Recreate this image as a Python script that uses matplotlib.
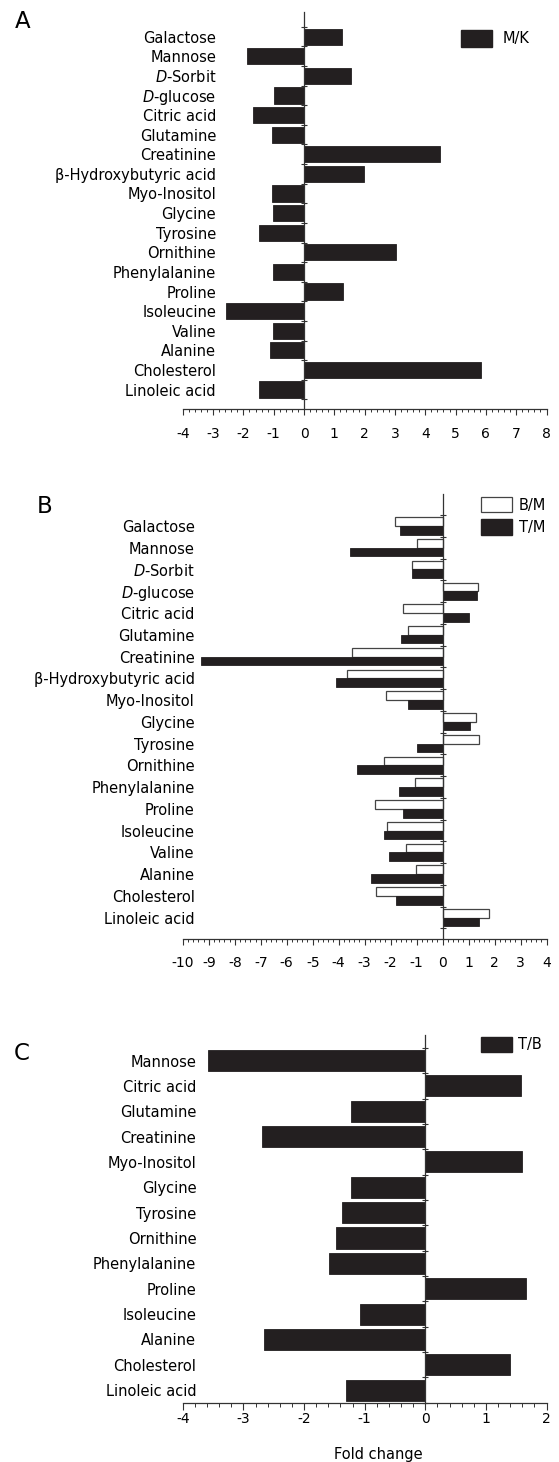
import matplotlib
matplotlib.use("Agg")
import matplotlib.pyplot as plt
from matplotlib.patches import Patch
from matplotlib.ticker import MultipleLocator, FixedLocator
import numpy as np

plt.rcParams['font.family'] = ['DejaVu Sans']
plt.rcParams['mathtext.fontset'] = 'dejavusans'

# ---------------- data ----------------
categories_ab = ["Galactose", "Mannose", r"$\mathit{D}$-Sorbit", r"$\mathit{D}$-glucose",
                 "Citric acid", "Glutamine", "Creatinine", "β-Hydroxybutyric acid",
                 "Myo-Inositol", "Glycine", "Tyrosine", "Ornithine", "Phenylalanine",
                 "Proline", "Isoleucine", "Valine", "Alanine", "Cholesterol", "Linoleic acid"]
mk_values = [1.26, -1.88, 1.55, -1.00, -1.68, -1.06, 4.47, 1.99, -1.07, -1.02,
             -1.49, 3.02, -1.02, 1.27, -2.56, -1.03, -1.13, 5.84, -1.48]
bm_values = [-1.83, -0.99, -1.17, 1.37, -1.54, -1.34, -3.47, -3.69, -2.17, 1.30,
             1.39, -2.24, -1.07, -2.59, -2.15, -1.42, -1.03, -2.56, 1.79]
tm_values = [-1.64, -3.55, -1.18, 1.34, 1.02, -1.60, -9.30, -4.09, -1.35, 1.06,
             -0.99, -3.31, -1.68, -1.54, -2.27, -2.05, -2.75, -1.80, 1.39]
categories_c = ["Mannose", "Citric acid", "Glutamine", "Creatinine", "Myo-Inositol",
                "Glycine", "Tyrosine", "Ornithine", "Phenylalanine", "Proline",
                "Isoleucine", "Alanine", "Cholesterol", "Linoleic acid"]
tb_values = [-3.59, 1.58, -1.22, -2.69, 1.59, -1.23, -1.38, -1.48, -1.58, 1.66,
             -1.07, -2.66, 1.40, -1.30]
xticks_a = list(range(-4, 9))
xticks_b = list(range(-10, 5))
xticks_c = list(range(-4, 3))

# ---------------- style ----------------
W, H = 559, 1462
DPI = 100
DARK = '#231f20'
SPINE = '#333333'
CAT_FS = 10.5
TICK_FS = 10

fig = plt.figure(figsize=(W / DPI, H / DPI), dpi=DPI)


def px_rect(left, top, right, bottom):
    return [left / W, 1 - bottom / H, (right - left) / W, (bottom - top) / H]


def style_axis(ax, labels, n, xlim, xticks, ylim, label_pad_px, xpad_pt):
    ax.set_xlim(*xlim)
    ax.set_ylim(*ylim)
    for s in ['top', 'right']:
        ax.spines[s].set_visible(False)
    ax.spines['left'].set_position(('data', 0))
    ax.spines['left'].set_color(SPINE)
    ax.spines['bottom'].set_color(SPINE)
    ax.spines['left'].set_linewidth(0.9)
    ax.spines['bottom'].set_linewidth(0.9)
    ax.set_yticks(np.arange(n))
    ax.set_yticklabels(labels, fontsize=CAT_FS)
    ax.yaxis.set_minor_locator(FixedLocator(np.arange(n + 1) - 0.5))
    ax.tick_params(axis='y', which='major', length=0, pad=label_pad_px * 72 / DPI)
    ax.tick_params(axis='y', which='minor', length=4, direction='inout', width=0.8, color=SPINE)
    ax.set_xticks(xticks)
    ax.set_xticklabels([str(t) for t in xticks], fontsize=TICK_FS)
    ax.xaxis.set_minor_locator(MultipleLocator(0.2))
    ax.tick_params(axis='x', which='major', length=4, width=0.8, direction='out', color=SPINE,
                   pad=xpad_pt)
    ax.tick_params(axis='x', which='minor', length=2.2, width=0.7, direction='out', color=SPINE)


# ---------------- Panel A ----------------
axA = fig.add_axes(px_rect(182.8, 12, 546.5, 409.3))
yA = np.arange(len(categories_ab))
axA.barh(yA, mk_values, height=0.82, color=DARK, edgecolor=DARK, linewidth=0.6, zorder=2)
style_axis(axA, categories_ab, len(categories_ab), (-4, 8), xticks_a, (19.01, -1.26), 88, 8.5)
axA.legend(handles=[Patch(facecolor=DARK, edgecolor=DARK, label='M/K')],
           loc='upper left', bbox_to_anchor=(461 / W, 1 - 30 / H),
           bbox_transform=fig.transFigure, frameon=False, fontsize=CAT_FS,
           handlelength=2.13, handleheight=1.37, handletextpad=0.7,
           borderpad=0, borderaxespad=0)

# ---------------- Panel B ----------------
axB = fig.add_axes(px_rect(182.8, 494, 546.5, 938.7))
yB = np.arange(len(categories_ab))
axB.barh(yB - 0.2, bm_values, height=0.4, color='white', edgecolor='#444444',
         linewidth=0.9, zorder=2, label='B/M')
axB.barh(yB + 0.2, tm_values, height=0.4, color=DARK, edgecolor=DARK,
         linewidth=0.6, zorder=2, label='T/M')
style_axis(axB, categories_ab, len(categories_ab), (-10, 4), xticks_b, (18.97, -1.47), 248, 8.5)
axB.legend(handles=[Patch(facecolor='white', edgecolor='#444444', linewidth=0.9, label='B/M'),
                    Patch(facecolor=DARK, edgecolor=DARK, label='T/M')],
           loc='upper left', bbox_to_anchor=(481 / W, 1 - 497 / H),
           bbox_transform=fig.transFigure, frameon=False, fontsize=CAT_FS,
           handlelength=2.13, handleheight=1.25, handletextpad=0.45, labelspacing=0.45,
           borderpad=0, borderaxespad=0)

# ---------------- Panel C ----------------
axC = fig.add_axes(px_rect(182.8, 1035, 546.5, 1403.3))
yC = np.arange(len(categories_c))
axC.barh(yC, tb_values, height=0.83, color=DARK, edgecolor=DARK, linewidth=0.6, zorder=2)
style_axis(axC, categories_c, len(categories_c), (-4, 2), xticks_c, (13.52, -1.006), 229, 1.5)
axC.tick_params(axis='x', which='major', length=5)
axC.tick_params(axis='x', which='minor', length=3)
axC.legend(handles=[Patch(facecolor=DARK, edgecolor=DARK, label='T/B')],
           loc='upper left', bbox_to_anchor=(481 / W, 1 - 1037 / H),
           bbox_transform=fig.transFigure, frameon=False, fontsize=CAT_FS,
           handlelength=2.13, handleheight=1.2, handletextpad=0.4,
           borderpad=0, borderaxespad=0)
fig.text(378.7 / W, 1 - 1454 / H, 'Fold change', ha='center', va='center', fontsize=CAT_FS)

# ---------------- panel letters ----------------
for letter, x, y in [('A', 15, 27.7), ('B', 37, 513), ('C', 14, 1060)]:
    fig.text(x / W, 1 - y / H, letter, ha='left', va='baseline', fontsize=16.5)

fig.savefig('out.png', dpi=DPI)
